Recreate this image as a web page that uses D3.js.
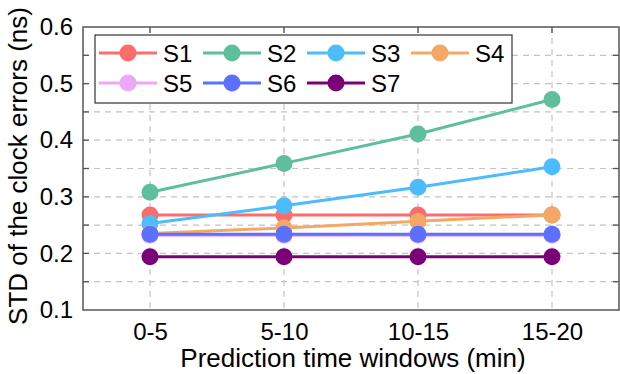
<!DOCTYPE html>
<html>
<head>
<meta charset="utf-8">
<script src="https://cdn.jsdelivr.net/npm/d3@7"></script>
<style>
  html, body { margin: 0; padding: 0; background: #fff; }
  svg { display: block; font-family: "Liberation Sans", Arial, sans-serif; }
</style>
</head>
<body>
<svg id="chart" width="620" height="374"></svg>
<script>
// Prediction time windows and the STD of clock errors per satellite series
const windows = ["0-5", "5-10", "10-15", "15-20"];
const seriesNames = ["S1", "S2", "S3", "S4", "S5", "S6", "S7"];
const seriesColors = ["#fc6c6c", "#5fbf9d", "#4cbcfc", "#f5a765", "#eaa8f7", "#5b70fc", "#7b0078"];
const s1 = [0.268, 0.268, 0.268, 0.268];
const s2 = [0.308, 0.359, 0.411, 0.472];
const s3 = [0.253, 0.284, 0.317, 0.353];
const s4 = [0.235, 0.245, 0.257, 0.268];
const s5 = [0.232, 0.232, 0.232, 0.232];
const s6 = [0.234, 0.234, 0.234, 0.234];
const s7 = [0.194, 0.194, 0.194, 0.194];
const yTicks = [0.1, 0.2, 0.3, 0.4, 0.5, 0.6];
const yGrid = [0.15, 0.2, 0.25, 0.3, 0.35, 0.4, 0.45, 0.5, 0.55];

const seriesValues = [s1, s2, s3, s4, s5, s6, s7];

const svg = d3.select("#chart");
const mLeft = 83, mRight = 619, mTop = 27, mBottom = 310;
const fontFamily = "Liberation Sans, Arial, sans-serif";

const x = d3.scalePoint().domain(windows).range([mLeft, mRight]).padding(0.5);
const y = d3.scaleLinear().domain([0.1, 0.6]).range([mBottom, mTop]);

// dashed grid
const grid = svg.append("g").attr("stroke", "#c4c4c4").attr("stroke-width", 1.2)
  .attr("stroke-dasharray", "6,5");
grid.selectAll("line.h").data(yGrid).join("line")
  .attr("x1", mLeft).attr("x2", mRight)
  .attr("y1", d => y(d)).attr("y2", d => y(d));
grid.selectAll("line.v").data(windows).join("line")
  .attr("x1", d => x(d)).attr("x2", d => x(d))
  .attr("y1", mTop).attr("y2", mBottom);

// axes
const axisColor = "#555";
const yAxis = svg.append("g").attr("transform", `translate(${mLeft},0)`)
  .call(d3.axisLeft(y).tickValues(yTicks).tickFormat(d3.format(".1f")).tickSize(0).tickPadding(10));
yAxis.select(".domain").remove();
yAxis.selectAll("text").attr("font-size", 24).attr("fill", "#000")
  .attr("font-family", fontFamily);

const xAxis = svg.append("g").attr("transform", `translate(0,${mBottom})`)
  .call(d3.axisBottom(x).tickSize(0));
xAxis.select(".domain").remove();
xAxis.selectAll("text").attr("font-size", 24).attr("fill", "#000")
  .attr("font-family", fontFamily).attr("y", 30).attr("dy", 0);

// inward ticks on the left, right and top edges
const tickLen = 6;
const ticks = svg.append("g").attr("stroke", axisColor).attr("stroke-width", 1.3);
ticks.selectAll("line.l").data(yGrid).join("line")
  .attr("x1", mLeft).attr("x2", mLeft + tickLen).attr("y1", d => y(d)).attr("y2", d => y(d));
ticks.selectAll("line.r").data(yGrid).join("line")
  .attr("x1", mRight - tickLen).attr("x2", mRight).attr("y1", d => y(d)).attr("y2", d => y(d));
ticks.selectAll("line.t").data(windows).join("line")
  .attr("x1", d => x(d)).attr("x2", d => x(d)).attr("y1", mTop).attr("y2", mTop + tickLen);

// frame
svg.append("rect").attr("x", mLeft).attr("y", mTop)
  .attr("width", mRight - mLeft).attr("height", mBottom - mTop)
  .attr("fill", "none").attr("stroke", axisColor).attr("stroke-width", 1.5);

// series lines with circle markers
const line = d3.line().x((d, i) => x(windows[i])).y(d => y(d));
seriesValues.forEach((vals, k) => {
  const g = svg.append("g");
  g.append("path").datum(vals).attr("d", line)
    .attr("fill", "none").attr("stroke", seriesColors[k]).attr("stroke-width", 3);
  g.selectAll("circle").data(vals).join("circle")
    .attr("cx", (d, i) => x(windows[i])).attr("cy", d => y(d)).attr("r", 8.5)
    .attr("fill", seriesColors[k]);
});

// axis titles
svg.append("text").attr("x", 353).attr("y", 367).attr("text-anchor", "middle")
  .attr("font-size", 26).text("Prediction time windows (min)");
svg.append("text").attr("transform", `translate(27,166) rotate(-90)`)
  .attr("text-anchor", "middle").attr("font-size", 26).text("STD of the clock errors (ns)");

// legend
const legend = svg.append("g");
legend.append("rect").attr("x", 95).attr("y", 35).attr("width", 417).attr("height", 68)
  .attr("fill", "#fff").attr("stroke", "#333").attr("stroke-width", 1.2);
const colW = 104, rowH = 30;
seriesNames.forEach((name, k) => {
  const col = k % 4, row = Math.floor(k / 4);
  const lx = 99 + col * colW, ly = 53 + row * rowH;
  legend.append("line").attr("x1", lx).attr("x2", lx + 58).attr("y1", ly).attr("y2", ly)
    .attr("stroke", seriesColors[k]).attr("stroke-width", 3);
  legend.append("circle").attr("cx", lx + 29).attr("cy", ly).attr("r", 8.5).attr("fill", seriesColors[k]);
  legend.append("text").attr("x", lx + 64).attr("y", ly + 9).attr("font-size", 24).text(name);
});
</script>
</body>
</html>
